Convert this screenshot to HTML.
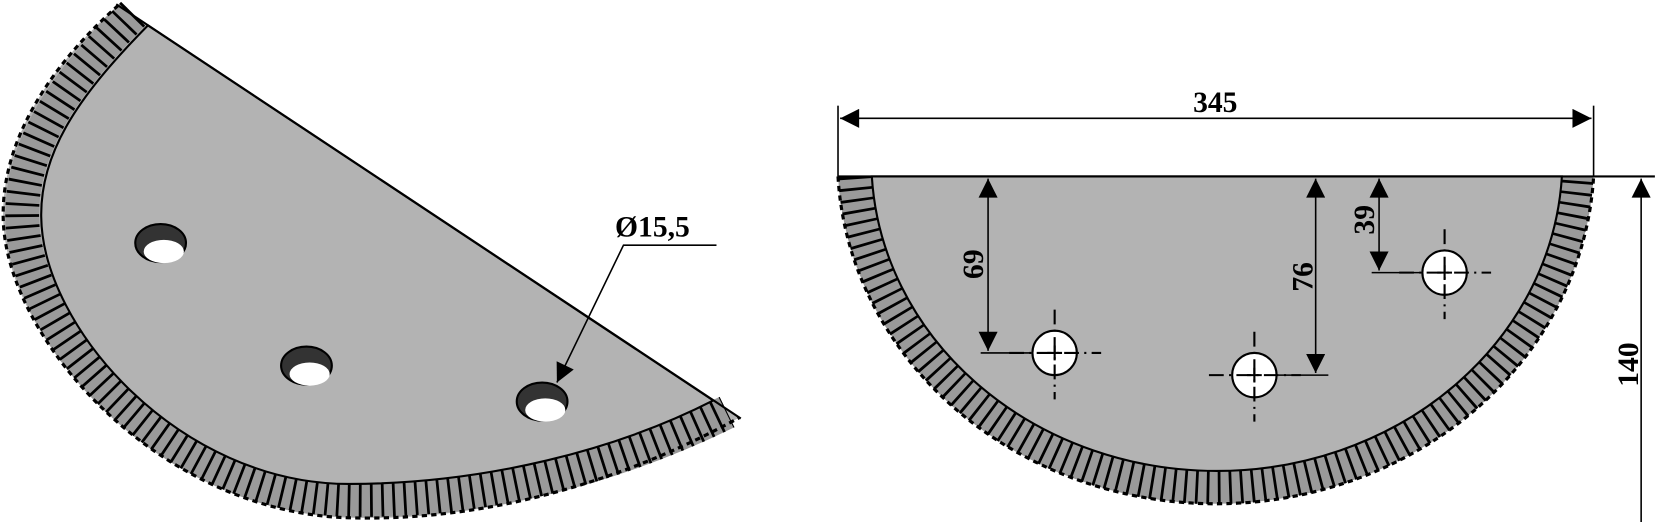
<!DOCTYPE html>
<html><head><style>html,body{margin:0;padding:0;background:#fff}svg{display:block}</style></head>
<body>
<svg width="1657" height="522" viewBox="0 0 1568 494" preserveAspectRatio="none" xmlns="http://www.w3.org/2000/svg" font-family="'Liberation Serif', serif" font-weight="bold">
<defs>
<marker id="b" viewBox="0 0 10 10" refX="10" refY="5" markerWidth="30" markerHeight="18" markerUnits="userSpaceOnUse" orient="auto-start-reverse"><path d="M0,0 L10,5 L0,10 z" fill="#000"/></marker>
</defs>
<!-- LEFT -->
<path d="M112,5 C50,60 2,130 3,205 C4,320 150,485 330,490 C470,494 600,450 700,395 Z" fill="#b3b3b3"/>
<path d="M126,13 C65,75 20,135 21,205 C22,315 160,470 330,473 C465,476 590,438 688,390" fill="none" stroke="#9a9a9a" stroke-width="32"/>
<path d="M126,13 C65,75 20,135 21,205 C22,315 160,470 330,473 C465,476 590,438 688,390" fill="none" stroke="#000" stroke-width="32" stroke-dasharray="2.6 8"/>
<path d="M112,5 C50,60 2,130 3,205 C4,320 150,485 330,490 C470,494 600,450 700,395" fill="none" stroke="#000" stroke-width="3" stroke-dasharray="5 4"/>
<path d="M140,24 C80,85 38,140 39,205 C40,310 170,458 330,458 C460,458 585,425 675,379 Z" fill="#b3b3b3" stroke="#000" stroke-width="2"/>
<line x1="110" y1="4" x2="701" y2="396" stroke="#000" stroke-width="2"/>
<g stroke="#000" stroke-width="2">
<ellipse cx="152" cy="230" rx="24" ry="18" fill="#333"/><ellipse cx="155" cy="238" rx="19" ry="11" fill="#fff" stroke="none"/>
<ellipse cx="290" cy="346" rx="24" ry="18" fill="#333"/><ellipse cx="293" cy="354" rx="19" ry="11" fill="#fff" stroke="none"/>
<ellipse cx="513" cy="380" rx="24" ry="18" fill="#333"/><ellipse cx="516" cy="388" rx="19" ry="11" fill="#fff" stroke="none"/>
</g>
<polyline points="678,232 590,232 527,362" fill="none" stroke="#000" stroke-width="1.5" marker-end="url(#b)"/>
<text x="582" y="224" font-size="28">Ø15,5</text>
<!-- RIGHT -->
<path d="M793,167 A358,327 0 0 0 1508,167 Z" fill="#9a9a9a"/>
<path d="M809,167 A342,311 0 0 0 1492,167" fill="none" stroke="#000" stroke-width="32" stroke-dasharray="2.6 8"/>
<path d="M793,167 A358,327 0 0 0 1508,167" fill="none" stroke="#000" stroke-width="3" stroke-dasharray="5 4"/>
<path d="M825,167 A327,295 0 0 0 1478,167 Z" fill="#b3b3b3" stroke="#000" stroke-width="2"/>
<line x1="793" y1="167" x2="1566" y2="167" stroke="#000" stroke-width="2"/>
<g stroke="#000" stroke-width="1.5">
<line x1="793" y1="100" x2="793" y2="167"/><line x1="1508" y1="100" x2="1508" y2="167"/>
<line x1="795" y1="112" x2="1506" y2="112" marker-start="url(#b)" marker-end="url(#b)"/>
<line x1="1553" y1="494" x2="1553" y2="169" marker-end="url(#b)"/>
<line x1="935" y1="169" x2="935" y2="332" marker-start="url(#b)" marker-end="url(#b)"/>
<line x1="928" y1="334" x2="975" y2="334"/>
<line x1="1245" y1="169" x2="1245" y2="353" marker-start="url(#b)" marker-end="url(#b)"/>
<line x1="1210" y1="355" x2="1257" y2="355"/>
<line x1="1305" y1="169" x2="1305" y2="256" marker-start="url(#b)" marker-end="url(#b)"/>
<line x1="1298" y1="258" x2="1345" y2="258"/>
</g>
<g stroke="#000" stroke-width="2">
<circle cx="998" cy="334" r="21" fill="#fff"/><circle cx="1187" cy="355" r="21" fill="#fff"/><circle cx="1367" cy="258" r="21" fill="#fff"/>
</g>
<g stroke="#000" stroke-width="2" stroke-dasharray="14 5 2 5">
<line x1="955" y1="334" x2="1042" y2="334"/><line x1="998" y1="293" x2="998" y2="378"/>
<line x1="1144" y1="355" x2="1231" y2="355"/><line x1="1187" y1="314" x2="1187" y2="399"/>
<line x1="1324" y1="258" x2="1411" y2="258"/><line x1="1367" y1="217" x2="1367" y2="302"/>
</g>
<g stroke="#000" stroke-width="2">
<path d="M991,334h14M998,327v14M1180,355h14M1187,348v14M1360,258h14M1367,251v14"/>
</g>
<text x="1150" y="106" font-size="28" text-anchor="middle">345</text>
<text transform="translate(1550,345) rotate(-90)" font-size="28" text-anchor="middle">140</text>
<text transform="translate(930,250) rotate(-90)" font-size="28" text-anchor="middle">69</text>
<text transform="translate(1242,262) rotate(-90)" font-size="28" text-anchor="middle">76</text>
<text transform="translate(1300,208) rotate(-90)" font-size="28" text-anchor="middle">39</text>
</svg>
</body></html>
